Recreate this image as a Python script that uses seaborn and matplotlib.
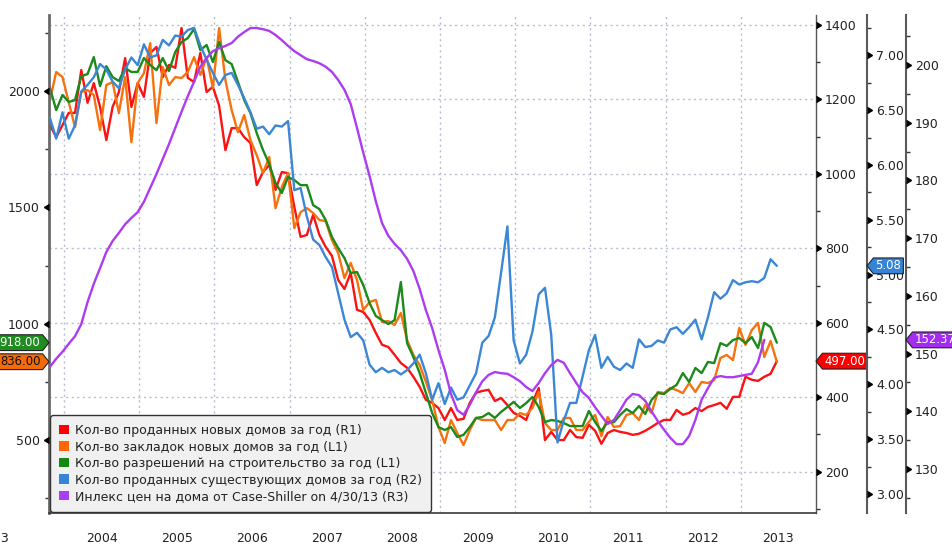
import numpy as np
import pandas as pd
import matplotlib
matplotlib.use("Agg")
import matplotlib.pyplot as plt
import matplotlib.transforms as mtransforms
from matplotlib.path import Path
from matplotlib.markers import CARETLEFTBASE, CARETRIGHTBASE
from matplotlib.ticker import FixedLocator, MultipleLocator, FixedFormatter, NullFormatter
from matplotlib.patches import Patch
import seaborn as sns

sns.set_theme(style="white")
plt.rcParams['font.family'] = ['DejaVu Sans']

# ---------------- data (monthly, Oct 2003 .. Jun 2013) ----------------
start_month = "2003-10-01"
n_months = 117

new_home_sales = [  # R1, thousands SAAR
    1131, 1099, 1131, 1164, 1164, 1279, 1191, 1244, 1180, 1091,
    1180, 1220, 1311, 1180, 1244, 1207, 1325, 1341, 1260, 1293,
    1285, 1392, 1258, 1247, 1325, 1220, 1234, 1183, 1064, 1123,
    1123, 1099, 1083, 970, 1005, 1024, 957, 1005, 1002, 911,
    831, 836, 890, 836, 804, 780, 715, 691, 734, 635,
    629, 608, 573, 541, 535, 514, 492, 479, 455, 428,
    393, 385, 371, 339, 371, 339, 342, 385, 412, 417,
    420, 390, 398, 379, 358, 350, 339, 385, 425, 285,
    307, 285, 285, 312, 293, 291, 326, 310, 275, 304,
    312, 307, 304, 299, 302, 310, 320, 331, 339, 339,
    366, 353, 358, 371, 363, 374, 379, 385, 369, 401,
    401, 455, 447, 444, 455, 463, 497]

housing_starts = [  # L1
    1962, 2083, 2061, 1953, 1846, 1997, 2005, 1984, 1833, 2027,
    2040, 1906, 2061, 1781, 2035, 2078, 2207, 1863, 2104, 2027,
    2061, 2057, 2083, 2147, 2070, 2147, 2014, 2272, 2048, 1919,
    1824, 1898, 1790, 1725, 1648, 1717, 1497, 1588, 1648, 1411,
    1480, 1497, 1476, 1446, 1441, 1360, 1304, 1196, 1261, 1188,
    1058, 1093, 1102, 1007, 1011, 994, 1046, 929, 865, 822,
    749, 671, 555, 486, 585, 529, 477, 542, 594, 585,
    585, 585, 542, 585, 585, 615, 607, 637, 706, 572,
    542, 542, 594, 594, 542, 542, 577, 607, 516, 598,
    555, 559, 607, 615, 585, 650, 615, 706, 701, 723,
    714, 701, 744, 706, 749, 744, 757, 852, 865, 843,
    981, 908, 972, 1003, 856, 925, 836]

building_permits = [  # L1
    2014, 1919, 1984, 1954, 1962, 2065, 2074, 2147, 2022, 2108,
    2061, 2044, 2100, 2083, 2083, 2143, 2113, 2091, 2143, 2087,
    2169, 2212, 2229, 2268, 2177, 2199, 2126, 2212, 2134, 2117,
    2040, 1962, 1906, 1820, 1747, 1687, 1605, 1562, 1631, 1618,
    1596, 1596, 1510, 1493, 1446, 1373, 1325, 1282, 1218, 1222,
    1166, 1089, 1033, 1015, 998, 1015, 1179, 916, 856, 787,
    701, 615, 555, 542, 555, 512, 521, 555, 594, 598,
    615, 594, 620, 641, 663, 637, 658, 684, 641, 576,
    585, 581, 572, 559, 559, 559, 624, 576, 538, 576,
    576, 607, 632, 615, 645, 611, 671, 701, 697, 719,
    736, 787, 749, 809, 787, 835, 830, 916, 904, 929,
    938, 916, 942, 895, 1003, 985, 918]

existing_home_sales = [  # R2, millions SAAR
    6.43, 6.24, 6.48, 6.24, 6.36, 6.67, 6.73, 6.80, 6.92, 6.87,
    6.76, 6.70, 6.87, 6.98, 6.91, 7.10, 6.98, 7.00, 7.14, 7.09,
    7.18, 7.17, 7.23, 7.25, 7.09, 6.96, 6.84, 6.73, 6.82, 6.84,
    6.73, 6.61, 6.48, 6.33, 6.35, 6.28, 6.36, 6.35, 6.40, 5.77,
    5.79, 5.53, 5.32, 5.27, 5.16, 5.07, 4.83, 4.59, 4.43, 4.47,
    4.40, 4.18, 4.11, 4.15, 4.11, 4.13, 4.09, 4.13, 4.19, 4.27,
    4.10, 3.86, 4.01, 3.82, 3.97, 3.86, 3.88, 3.99, 4.10, 4.38,
    4.44, 4.61, 5.02, 5.44, 4.40, 4.19, 4.27, 4.48, 4.82, 4.88,
    4.45, 3.47, 3.67, 3.83, 3.83, 4.07, 4.31, 4.45, 4.15, 4.25,
    4.16, 4.13, 4.19, 4.15, 4.41, 4.34, 4.35, 4.40, 4.38, 4.50,
    4.52, 4.46, 4.52, 4.59, 4.41, 4.61, 4.84, 4.78, 4.83, 4.95,
    4.91, 4.93, 4.94, 4.93, 4.97, 5.14, 5.08]

case_shiller = [  # R3, Oct 2003 .. Apr 2013
    147.7, 149.1, 150.3, 151.7, 153.0, 155.1, 158.9, 162.1, 164.8, 167.6,
    169.5, 170.9, 172.4, 173.5, 174.5, 176.3, 178.7, 181.1, 183.7, 186.3,
    189.1, 191.9, 194.6, 197.1, 199.7, 201.2, 202.4, 202.9, 203.3, 203.8,
    204.9, 205.7, 206.4, 206.4, 206.2, 205.9, 205.2, 204.3, 203.3, 202.4,
    201.7, 201.0, 200.7, 200.3, 199.7, 198.8, 197.4, 195.7, 193.2, 189.1,
    184.8, 180.8, 176.4, 172.6, 170.4, 169.0, 167.9, 166.4, 164.3, 161.2,
    157.5, 154.4, 150.6, 147.2, 143.0, 140.2, 139.4, 141.1, 143.3, 145.2,
    146.3, 146.8, 146.6, 146.5, 145.9, 145.2, 144.2, 143.5, 144.9, 146.6,
    148.0, 148.9, 148.4, 146.6, 144.9, 143.3, 142.3, 140.7, 139.2, 137.8,
    138.5, 140.2, 142.0, 143.0, 142.8, 141.8, 140.0, 138.3, 136.8, 135.4,
    134.3, 134.3, 135.7, 138.5, 142.0, 144.0, 145.8, 146.1, 145.9, 145.9,
    146.1, 146.3, 146.5, 148.5, 152.37]

legend_labels = [
    "Кол-во проданных новых домов за год (R1)",
    "Кол-во закладок новых домов за год (L1)",
    "Кол-во разрешений на строительство за год (L1)",
    "Кол-во проданных существующих домов за год (R2)",
    "Инлекс цен на дома от Case-Shiller on 4/30/13 (R3)",
]
year_labels = list(range(2004, 2014))

L1_ticks = [500, 1000, 1500, 2000]
R1_ticks = [200, 400, 600, 800, 1000, 1200, 1400]
R2_ticks = [3.0, 3.5, 4.0, 4.5, 5.0, 5.5, 6.0, 6.5, 7.0]
R3_ticks = [130, 140, 150, 160, 170, 180, 190, 200]

# ---------------- styling ----------------
C_RED = "#fb1212"
C_ORANGE = "#f6720f"
C_GREEN = "#1b8a1b"
C_BLUE = "#3b87d6"
C_PURPLE = "#ad3cf0"
TXT = "#222222"
LW = 1.7
FS = 9
TAG_FS = 8.4

months = pd.date_range(start_month, periods=n_months, freq="MS")
t = (months.year + (months.month - 1 + 0.75) / 12.0).to_numpy()

W, H = 953, 545
fig = plt.figure(figsize=(W / 100, H / 100), dpi=100)
fig.patch.set_facecolor("white")
ax = fig.add_axes([49 / W, 32.5 / H, (816 - 49) / W, (530.4 - 32.5) / H])
axR1 = ax.twinx()
axR2 = ax.twinx()
axR3 = ax.twinx()

R2_POS = (867 - 49) / (816 - 49)
R3_POS = (906 - 49) / (816 - 49)

# draw order: R1 (with grid) at bottom
axR1.set_zorder(1)
ax.set_zorder(2)
axR2.set_zorder(3)
axR3.set_zorder(4)
for a in (ax, axR1, axR2, axR3):
    a.patch.set_visible(False)

sns.lineplot(x=t, y=np.array(new_home_sales, float), ax=axR1, color=C_RED, linewidth=LW)
sns.lineplot(x=t, y=np.array(housing_starts, float), ax=ax, color=C_ORANGE, linewidth=LW)
sns.lineplot(x=t, y=np.array(building_permits, float), ax=ax, color=C_GREEN, linewidth=LW)
sns.lineplot(x=t, y=np.array(existing_home_sales, float), ax=axR2, color=C_BLUE, linewidth=LW)
sns.lineplot(x=t[:len(case_shiller)], y=np.array(case_shiller, float), ax=axR3,
             color=C_PURPLE, linewidth=LW)

XMIN, XMAX = 2003.80, 2014.0
for a in (ax, axR1, axR2, axR3):
    a.set_xlim(XMIN, XMAX)
    a.set_ylabel("")
    a.set_xlabel("")
ax.set_ylim(187, 2330)
axR1.set_ylim(90.4, 1428)
axR2.set_ylim(2.831, 7.371)
axR3.set_ylim(122.46, 208.73)

# ---------------- grid (follows R1 and year boundaries) ----------------
grid_kw = dict(color="#b7bdd0", linewidth=1.0, linestyle=(0, (1.5, 2.5)))
for v in R1_ticks:
    axR1.axhline(v, zorder=0, **grid_kw)
for y in year_labels:
    axR1.axvline(y, zorder=0, **grid_kw)

# ---------------- spines ----------------
for a in (ax, axR1, axR2, axR3):
    for s in a.spines.values():
        s.set_visible(False)
ax.spines["left"].set_visible(True)
ax.spines["left"].set_color("#6a6a6a")
ax.spines["left"].set_linewidth(2.0)
ax.spines["bottom"].set_visible(True)
ax.spines["bottom"].set_color("#3a3a3a")
ax.spines["bottom"].set_linewidth(1.2)
axR1.spines["right"].set_visible(True)
axR1.spines["right"].set_color("#555555")
axR1.spines["right"].set_linewidth(1.0)
axR2.spines["right"].set_visible(True)
axR2.spines["right"].set_position(("axes", R2_POS))
axR2.spines["right"].set_color("#5a5a5a")
axR2.spines["right"].set_linewidth(1.5)
axR3.spines["right"].set_visible(True)
axR3.spines["right"].set_position(("axes", R3_POS))
axR3.spines["right"].set_color("#5a5a5a")
axR3.spines["right"].set_linewidth(1.5)

# ---------------- y ticks ----------------
def setup_y(a, ticks, minor_step, fmt):
    lo, hi = a.get_ylim()
    a.yaxis.set_major_locator(FixedLocator(ticks))
    mins = np.arange(np.floor(lo / minor_step) * minor_step, hi + 1e-9, minor_step)
    mins = [m for m in mins if lo <= m <= hi and not any(abs(m - tk) < 1e-6 for tk in ticks)]
    a.yaxis.set_minor_locator(FixedLocator(mins))
    a.yaxis.set_major_formatter(FixedFormatter([fmt.format(v) for v in ticks]))
    a.yaxis.set_minor_formatter(NullFormatter())
    a.tick_params(axis="y", which="major", length=0, pad=6.5, labelsize=FS, labelcolor=TXT)
    a.tick_params(axis="y", which="minor", length=3, width=1, color="#333333", direction="out")

setup_y(ax, L1_ticks, 250, "{:.0f}")
setup_y(axR1, R1_ticks, 100, "{:.0f}")
setup_y(axR2, R2_ticks, 0.25, "{:.2f}")
setup_y(axR3, R3_ticks, 5, "{:.0f}")

# triangle markers on the major ticks
def tick_marks(a, ticks, xpos, marker):
    tr = mtransforms.blended_transform_factory(a.transAxes, a.transData)
    a.plot([xpos] * len(ticks), ticks, transform=tr, linestyle="none", marker=marker,
           markersize=5, color="black", clip_on=False, zorder=5)

tick_marks(ax, L1_ticks, 0.0, CARETLEFTBASE)
tick_marks(axR1, R1_ticks, 1.0, CARETRIGHTBASE)
tick_marks(axR2, R2_ticks, R2_POS, CARETRIGHTBASE)
tick_marks(axR3, R3_ticks, R3_POS, CARETRIGHTBASE)

# ---------------- x axis ----------------
ax.xaxis.set_major_locator(FixedLocator(list(range(2004, 2015))))
ax.xaxis.set_minor_locator(MultipleLocator(0.25))
ax.tick_params(axis="x", which="major", length=23.6, width=1.0, color="#8c8c8c",
               direction="out", labelbottom=False)
ax.tick_params(axis="x", which="minor", length=3, width=1.0, color="#333333",
               direction="out", labelbottom=False)
for a in (axR1, axR2, axR3):
    a.tick_params(axis="x", which="both", length=0, labelbottom=False)

xtr = mtransforms.blended_transform_factory(ax.transData, ax.transAxes)
for y in year_labels:
    ax.text(y + 0.5, -0.053, str(y), transform=xtr, ha="center", va="center",
            fontsize=FS, color=TXT)
fig.text(9 / W, 1 - 539 / H, "2003", ha="right", va="center", fontsize=FS, color=TXT)

# ---------------- value tags ----------------
PADX, PADY, DEPTH = 0.18, 0.12, 0.55

def tag_style(direction):
    def style(x0, y0, width, height, mutation_size):
        px, py = PADX * mutation_size, PADY * mutation_size
        x0, y0 = x0 - px, y0 - py
        x1, y1 = x0 + width + 2 * px, y0 + height + 2 * py
        ym = (y0 + y1) / 2
        d = DEPTH * mutation_size
        if direction == "left":
            v = [(x0 - d, ym), (x0, y1), (x1, y1), (x1, y0), (x0, y0), (x0 - d, ym)]
        else:
            v = [(x1 + d, ym), (x1, y0), (x0, y0), (x0, y1), (x1, y1), (x1 + d, ym)]
        return Path(v, closed=True)
    return style

def value_tag(a, value, text, xpos, side, face, tcolor):
    tr = mtransforms.blended_transform_factory(a.transAxes, a.transData)
    off = (PADX + DEPTH) * TAG_FS
    sign, ha, d = (1, "left", "left") if side == "right" else (-1, "right", "right")
    a.annotate(text, xy=(xpos, value), xycoords=tr, xytext=(sign * off, 0),
               textcoords="offset points", ha=ha, va="center", fontsize=TAG_FS,
               color=tcolor, annotation_clip=False, zorder=10,
               bbox=dict(boxstyle=tag_style(d), fc=face, ec="#222222", lw=0.8))

value_tag(ax, building_permits[-1], f"{building_permits[-1]:.2f}", 0.0, "left", "#1e8c1e", "white")
value_tag(ax, housing_starts[-1], f"{housing_starts[-1]:.2f}", 0.0, "left", "#f26a0c", "#111111")
value_tag(axR1, new_home_sales[-1], f"{new_home_sales[-1]:.2f}", 1.0, "right", "#ff0000", "white")
value_tag(axR2, existing_home_sales[-1], f"{existing_home_sales[-1]:.2f}", R2_POS, "right",
          "#3584d8", "white")
value_tag(axR3, case_shiller[-1], f"{case_shiller[-1]:.2f}", R3_POS, "right", "#a42cf0", "white")

# ---------------- legend ----------------
handles = [Patch(facecolor=c, edgecolor="none") for c in
           ["#ff0000", "#ff6600", "#118811", "#3584d8", "#a83ff2"]]
leg = axR3.legend(handles, legend_labels, loc="lower left", bbox_to_anchor=(0.0015, 0.0015),
                  borderaxespad=0, frameon=True, fontsize=FS, handlelength=0.8,
                  handleheight=0.8, handletextpad=0.5, labelspacing=0.28, borderpad=0.7,
                  fancybox=True, facecolor="#f0f0f0", edgecolor="#333333", framealpha=1)
leg.get_frame().set_linewidth(1.0)
for txt in leg.get_texts():
    txt.set_color(TXT)
leg.set_zorder(20)

fig.savefig("out.png", dpi=100)
